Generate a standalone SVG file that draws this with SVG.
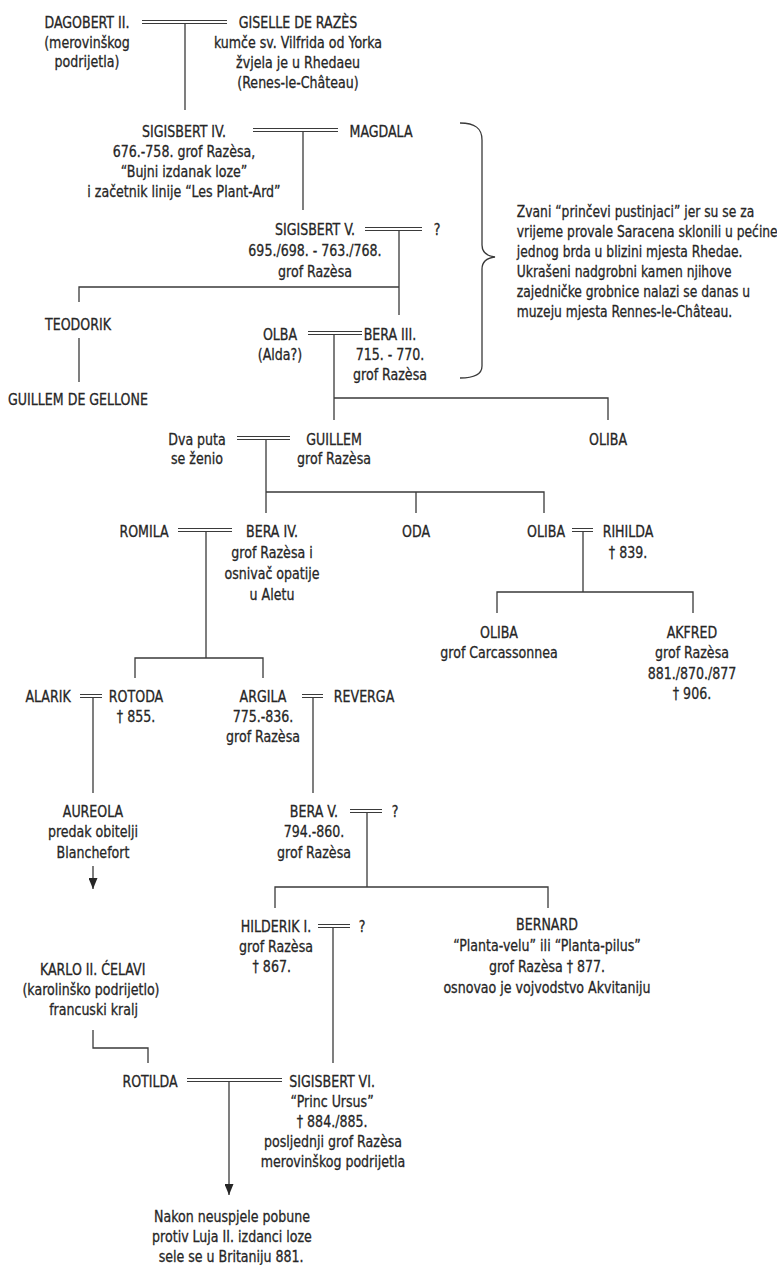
<svg xmlns="http://www.w3.org/2000/svg" width="777" height="1265" viewBox="0 0 777 1265">
  <style>
    text { font-family: "DejaVu Sans Condensed", "DejaVu Sans", sans-serif; font-size: 16.5px; fill: #262626; stroke: #262626; stroke-width: 0.3; transform-box: fill-box; }
    .n text { text-anchor: middle; transform-origin: center; transform: scaleX(0.85); }
    .note text { text-anchor: start; transform-origin: left center; transform: scaleX(0.83); }
    .ln { fill: none; stroke: #3a3a3a; stroke-width: 1.3; }
    .dbl { fill: none; stroke: #3a3a3a; stroke-width: 1.1; }
  </style>
  <defs>
    <marker id="ah" viewBox="0 0 11 9" refX="11" refY="4.5" markerWidth="11" markerHeight="9" markerUnits="userSpaceOnUse" orient="auto">
      <path d="M0 0 L11 4.5 L0 9 Z" fill="#262626"/>
    </marker>
  </defs>
  <rect width="777" height="1265" fill="#ffffff"/>

  <!-- connectors: marriages (double), descent lines, brace -->
  <g id="connectors">
    <g class="dbl">
      <path d="M142 20.5 H227 M142 23.5 H227"/>
      <path d="M253 128.5 H338 M253 131.5 H338"/>
      <path d="M365 227.5 H422 M365 230.5 H422"/>
      <path d="M308 331.5 H362 M308 334.5 H362"/>
      <path d="M237 436.5 H290 M237 439.5 H290"/>
      <path d="M178 528.5 H232 M178 531.5 H232"/>
      <path d="M572 528.5 H593 M572 531.5 H593"/>
      <path d="M80 694.5 H102 M80 697.5 H102"/>
      <path d="M302 694.5 H323 M302 697.5 H323"/>
      <path d="M350 809.5 H382 M350 812.5 H382"/>
      <path d="M318 924.5 H350 M318 927.5 H350"/>
      <path d="M187 1078.5 H282 M187 1081.5 H282"/>
    </g>
    <g class="ln">
      <path d="M185 23.5 V110"/>
      <path d="M303 131.5 V210"/>
      <path d="M399 230.5 V315 M79 302 V287 H399"/>
      <path d="M79 338 V382"/>
      <path d="M334 334.5 V420 M334 398 H608 V420"/>
      <path d="M266 439.5 V513 M266 492 H544 V513 M416 492 V513"/>
      <path d="M206 531.5 V658 M135 678 V658 H263 V678"/>
      <path d="M583 531.5 V592 M497 613 V592 H693 V613"/>
      <path d="M93 697.5 V793"/>
      <path d="M313 697.5 V793"/>
      <path d="M367 812.5 V887 M275 908 V887 H548 V908"/>
      <path d="M93 866 V889" marker-end="url(#ah)"/>
      <path d="M333 927.5 V1063"/>
      <path d="M93 1030 V1048 H148 V1063"/>
      <path d="M229 1081.5 V1195" marker-end="url(#ah)"/>
      <path d="M460 123 C475 123 482 128 482 140 V245 C482 252 487 256 495 257 C487 258 482 262 482 269 V366 C482 374 475 378 460 378"/>
    </g>
  </g>

  <g class="n">
    <g id="dagobert"><text x="87" y="28">DAGOBERT II.<tspan x="87" dy="20">(merovinškog</tspan><tspan x="87" dy="19.5">podrijetla)</tspan></text></g>
    <g id="giselle"><text x="298" y="28">GISELLE DE RAZÈS<tspan x="298" dy="20">kumče sv. Vilfrida od Yorka</tspan><tspan x="298" dy="20">žvjela je u Rhedaeu</tspan><tspan x="298" dy="20">(Renes-le-Château)</tspan></text></g>
    <g id="sigisbert4"><text x="184" y="137">SIGISBERT IV.<tspan x="184" dy="20">676.-758. grof Razèsa,</tspan><tspan x="184" dy="20">“Bujni izdanak loze”</tspan><tspan x="184" dy="20">i začetnik linije “Les Plant-Ard”</tspan></text></g>
    <g id="magdala"><text x="381" y="137">MAGDALA</text></g>
    <g id="sigisbert5"><text x="315" y="235">SIGISBERT V.<tspan x="315" dy="21">695./698. - 763./768.</tspan><tspan x="315" dy="21">grof Razèsa</tspan></text></g>
    <g id="unknown1"><text x="437" y="235">?</text></g>
    <g id="teodorik"><text x="78" y="330">TEODORIK</text></g>
    <g id="gellone"><text x="78" y="405">GUILLEM DE GELLONE</text></g>
    <g id="olba"><text x="280" y="340">OLBA<tspan x="280" dy="20">(Alda?)</tspan></text></g>
    <g id="bera3"><text x="390" y="340">BERA III.<tspan x="390" dy="20">715. - 770.</tspan><tspan x="390" dy="20">grof Razèsa</tspan></text></g>
    <g id="oliba1"><text x="608" y="445">OLIBA</text></g>
    <g id="dvaputa"><text x="197" y="445">Dva puta<tspan x="197" dy="19.5">se ženio</tspan></text></g>
    <g id="guillem"><text x="334" y="445">GUILLEM<tspan x="334" dy="19.5">grof Razèsa</tspan></text></g>
    <g id="romila"><text x="144" y="537">ROMILA</text></g>
    <g id="bera4"><text x="272" y="537">BERA IV.<tspan x="272" dy="21">grof Razèsa i</tspan><tspan x="272" dy="21">osnivač opatije</tspan><tspan x="272" dy="21">u Aletu</tspan></text></g>
    <g id="oda"><text x="416" y="537">ODA</text></g>
    <g id="oliba2"><text x="546" y="537">OLIBA</text></g>
    <g id="rihilda"><text x="628" y="537">RIHILDA<tspan x="628" dy="21">† 839.</tspan></text></g>
    <g id="oliba3"><text x="499" y="638">OLIBA<tspan x="499" dy="20">grof Carcassonnea</tspan></text></g>
    <g id="akfred"><text x="692" y="638">AKFRED<tspan x="692" dy="20.5">grof Razèsa</tspan><tspan x="692" dy="20.5">881./870./877</tspan><tspan x="692" dy="20.5">† 906.</tspan></text></g>
    <g id="alarik"><text x="48" y="702">ALARIK</text></g>
    <g id="rotoda"><text x="136" y="702">ROTODA<tspan x="136" dy="20">† 855.</tspan></text></g>
    <g id="argila"><text x="263" y="702">ARGILA<tspan x="263" dy="20">775.-836.</tspan><tspan x="263" dy="20">grof Razèsa</tspan></text></g>
    <g id="reverga"><text x="364" y="702">REVERGA</text></g>
    <g id="aureola"><text x="93" y="817">AUREOLA<tspan x="93" dy="20.5">predak obitelji</tspan><tspan x="93" dy="20.5">Blanchefort</tspan></text></g>
    <g id="bera5"><text x="314" y="817">BERA V.<tspan x="314" dy="20.5">794.-860.</tspan><tspan x="314" dy="20.5">grof Razèsa</tspan></text></g>
    <g id="unknown2"><text x="395" y="817">?</text></g>
    <g id="hilderik"><text x="276" y="932">HILDERIK I.<tspan x="276" dy="20">grof Razèsa</tspan><tspan x="271" dy="20">† 867.</tspan></text></g>
    <g id="unknown3"><text x="362" y="932">?</text></g>
    <g id="bernard"><text x="547" y="930">BERNARD<tspan x="547" dy="21">“Planta-velu” ili “Planta-pilus”</tspan><tspan x="547" dy="21">grof Razèsa † 877.</tspan><tspan x="547" dy="21">osnovao je vojvodstvo Akvitaniju</tspan></text></g>
    <g id="karlo"><text x="93" y="975">KARLO II. ĆELAVI<tspan x="91" dy="20">(karolinško podrijetlo)</tspan><tspan x="94" dy="20">francuski kralj</tspan></text></g>
    <g id="rotilda"><text x="150" y="1087">ROTILDA</text></g>
    <g id="sigisbert6"><text x="332" y="1087">SIGISBERT VI.<tspan x="332" dy="20">“Princ Ursus”</tspan><tspan x="332" dy="20">† 884./885.</tspan><tspan x="333" dy="20.5">posljednji grof Razèsa</tspan><tspan x="333" dy="19.5">merovinškog podrijetla</tspan></text></g>
    <g id="nakon"><text x="232" y="1222">Nakon neuspjele pobune<tspan x="232" dy="20">protiv Luja II. izdanci loze</tspan><tspan x="231" dy="20">sele se u Britaniju 881.</tspan></text></g>
  </g>

  <g id="note" class="note">
    <text x="517" y="217">Zvani “prinčevi pustinjaci” jer su se za<tspan x="517" dy="20">vrijeme provale Saracena sklonili u pećine</tspan><tspan x="517" dy="20">jednog brda u blizini mjesta Rhedae.</tspan><tspan x="517" dy="20">Ukrašeni nadgrobni kamen njihove</tspan><tspan x="517" dy="20">zajedničke grobnice nalazi se danas u</tspan><tspan x="517" dy="20">muzeju mjesta Rennes-le-Château.</tspan></text>
  </g>
</svg>
